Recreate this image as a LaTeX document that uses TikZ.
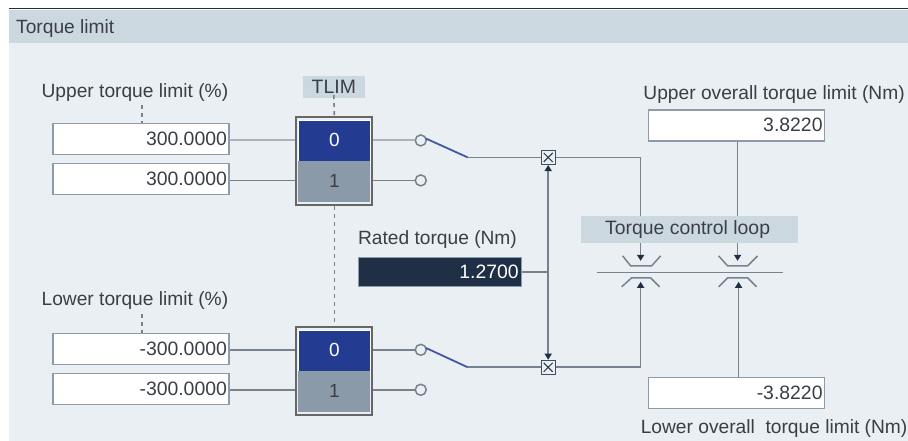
\documentclass[tikz,border=0pt]{standalone}
\usepackage{fontspec}
\setmainfont{Liberation Sans}
\usetikzlibrary{arrows.meta}

\definecolor{bodybg}{HTML}{EAEFF4}
\definecolor{bandbg}{HTML}{CCD8E0}
\definecolor{boxline}{HTML}{8D9BAA}
\definecolor{wire}{HTML}{76838F}
\definecolor{lightwire}{HTML}{ABB4BD}
\definecolor{swblue}{HTML}{233B90}
\definecolor{swgrey}{HTML}{8A9AA8}
\definecolor{ratedbg}{HTML}{1F2F45}
\definecolor{txt}{HTML}{3A3F45}

\tikzstyle{label} = [font=\fontsize{19.2}{21}\selectfont,text=txt,inner sep=0pt]
\tikzstyle{valbox} = [draw=boxline,line width=1.4pt,fill=white,minimum width=176,minimum height=31,inner xsep=2pt,inner ysep=0pt,text width=172,align=right,font=\fontsize{19.4}{21}\selectfont,text=txt]
\tikzstyle{band} = [fill=bandbg,inner sep=0pt,font=\fontsize{19.4}{21}\selectfont,text=txt]
\tikzstyle{frame} = [draw=black!60,line width=2pt,minimum width=76,minimum height=88,inner sep=0pt]
\tikzstyle{selzero} = [fill=swblue,draw=white,line width=0.5pt,minimum width=72,minimum height=41,inner sep=0pt,text=white,font=\fontsize{19}{21}\selectfont]
\tikzstyle{selone} = [fill=swgrey,minimum width=72,minimum height=41,inner sep=0pt,text=txt,font=\fontsize{19}{21}\selectfont]
\tikzstyle{contact} = [circle,draw=wire,line width=1.5pt,fill=bodybg,minimum size=11,inner sep=0pt]
\tikzstyle{xbox} = [draw=ratedbg!85,line width=1.2pt,fill=bodybg,minimum size=14,inner sep=0pt,path picture={\draw[line width=1pt,ratedbg] ([shift={(2.5pt,2.5pt)}]path picture bounding box.south west) -- ([shift={(-2.5pt,-2.5pt)}]path picture bounding box.north east); \draw[line width=1pt,ratedbg] ([shift={(2.5pt,-2.5pt)}]path picture bounding box.north west) -- ([shift={(-2.5pt,2.5pt)}]path picture bounding box.south east);}]
\tikzstyle{wireline} = [draw=wire,line width=1.6pt]
\tikzstyle{lightline} = [draw=lightwire,line width=2pt]
\tikzstyle{dashline} = [draw=wire,line width=1.6pt,dash pattern=on 4pt off 4pt]
\tikzstyle{swline} = [draw=swblue!85!white,line width=1.8pt]
\tikzstyle{arrowline} = [wireline,-{Triangle[length=6pt,width=7pt,color=ratedbg]}]
\tikzstyle{limiter} = [draw=wire,line width=1.5pt]

\begin{document}
\begin{tikzpicture}[x=1pt,y=-1pt]
	\fill[white] (0,0) rectangle (908,441);
	\fill[bodybg] (9,43) rectangle (908,441);
	\fill[bandbg] (9,10) rectangle (908,43);
	\draw[ratedbg,line width=1pt] (9,9) -- (908,9);
	\useasboundingbox (0,0) rectangle (908,441);

	\node[label,anchor=west] (title) at (16,29) {Torque limit};

	% upper limits
	\node[label] (l1) at (135,92.5) {Upper torque limit (\%)};
	\node[valbox] (n11) at (141,139) {\raisebox{1pt}{300.0000}};
	\node[valbox] (n12) at (141,179) {\raisebox{1pt}{300.0000}};
	\coordinate (t1) at (142,105);
	\draw[dashline] (t1) -- (t1 |- n11.north);

	% lower limits
	\node[label] (l2) at (135,300.5) {Lower torque limit (\%)};
	\node[valbox] (n21) at (141,349) {\raisebox{1pt}{-300.0000}};
	\node[valbox] (n22) at (141,389) {\raisebox{1pt}{-300.0000}};
	\coordinate (t2) at (142,314);
	\draw[dashline] (t2) -- (t2 |- n21.north);

	% selectors
	\node[band,minimum width=62,minimum height=22] (tlim) at (334,87) {\raisebox{-1pt}{TLIM}};
	\node[selzero] (s11) at (334.5,140.5) {0};
	\node[selone] (s12) at (334.5,181.5) {1};
	\node[frame] (f1) at (334.5,161) {};
	\node[selzero] (s21) at (334.5,350.5) {0};
	\node[selone] (s22) at (334.5,391.5) {1};
	\node[frame] (f2) at (334.5,371) {};

	\coordinate (t3) at (tlim.south);
	\draw[dashline] ([yshift=3pt]t3) -- (f1.north);
	\draw[dashline] (f1.south) -- (f2.north);

	\node[contact] (c11) at (421,140.5) {};
	\node[contact] (c12) at (421,180.5) {};
	\node[contact] (c21) at (421,350) {};
	\node[contact] (c22) at (421,390) {};

	\draw[lightline] (n11.east |- c11) -- (f1.west |- c11);
	\draw[wireline] (n12.east |- c12) -- (f1.west |- c12);
	\draw[wireline] (n21.east |- c21) -- (f2.west |- c21);
	\draw[wireline] (n22.east |- c22) -- (f2.west |- c22);
	\draw[lightline] (f1.east |- c11) -- (c11);
	\draw[wireline] (f1.east |- c12) -- (c12);
	\draw[wireline] (f2.east |- c21) -- (c21);
	\draw[wireline] (f2.east |- c22) -- (c22);

	% switches
	\coordinate (w1) at (468,157.5);
	\coordinate (w2) at (468,367.5);
	\draw[swline] (c11) ++(-20:5.5) -- (w1);
	\draw[swline] (c21) ++(-20:5.5) -- (w2);
	\node[xbox] (x1) at (548.5,157.5) {};
	\node[xbox] (x2) at (548.5,367.5) {};
	\draw[wireline] (w1) -- (x1);
	\draw[wireline] (w2) -- (x2);

	% rated torque
	\node[label,anchor=west] (l3) at (358,240) {Rated torque (Nm)};
	\node[fill=ratedbg,draw=boxline,line width=0.8pt,minimum width=163,minimum height=29,inner xsep=3pt,inner ysep=0pt,text width=157,align=right,font=\fontsize{19.4}{21}\selectfont,text=white] (n31) at (440.5,272) {1.2700};
	\draw[wireline] (n31.east) -- (n31.east -| x1);
	\draw[arrowline] (n31.east -| x1) -- (x1.south);
	\draw[arrowline] (n31.east -| x1) -- (x2.north);

	% overall limits
	\node[label] (l4) at (774.5,94.5) {Upper overall torque limit (Nm)};
	\node[valbox] (n41) at (737,125.5) {\raisebox{1pt}{3.8220}};
	\node[label] (l5) at (774.5,429) {Lower overall \ torque limit (Nm)};
	\node[valbox] (n42) at (737,393) {\raisebox{1pt}{-3.8220}};

	% torque control loop
	\coordinate (a11) at (641,261);
	\coordinate (a12) at (641,282);
	\coordinate (a21) at (738,261);
	\coordinate (a22) at (739,282);
	\draw[arrowline] (x1) -| (a11);
	\draw[arrowline] (x2) -| (a12);
	\draw[arrowline] (n41.south -| a21) -- (a21);
	\draw[arrowline] (n42.north -| a22) -- (a22);
	\node[band,minimum width=217,minimum height=27] (loop) at (689.5,229.5) {\hspace*{-3pt}\raisebox{-1.5pt}{Torque control loop}};

	\coordinate (b1) at (597,272.5);
	\coordinate (b2) at (783,272.5);
	\draw[limiter] (b1) -- (b2);
	\draw[limiter] (623,256) -- (631,266) -- (652,266) -- (661,256);
	\draw[limiter] (719,256) -- (728,266) -- (748,266) -- (758,256);
	\draw[limiter] (622,287) -- (632,278) -- (651,278) -- (660,287);
	\draw[limiter] (719,287) -- (728,278) -- (748,278) -- (757,287);
\end{tikzpicture}
\end{document}
